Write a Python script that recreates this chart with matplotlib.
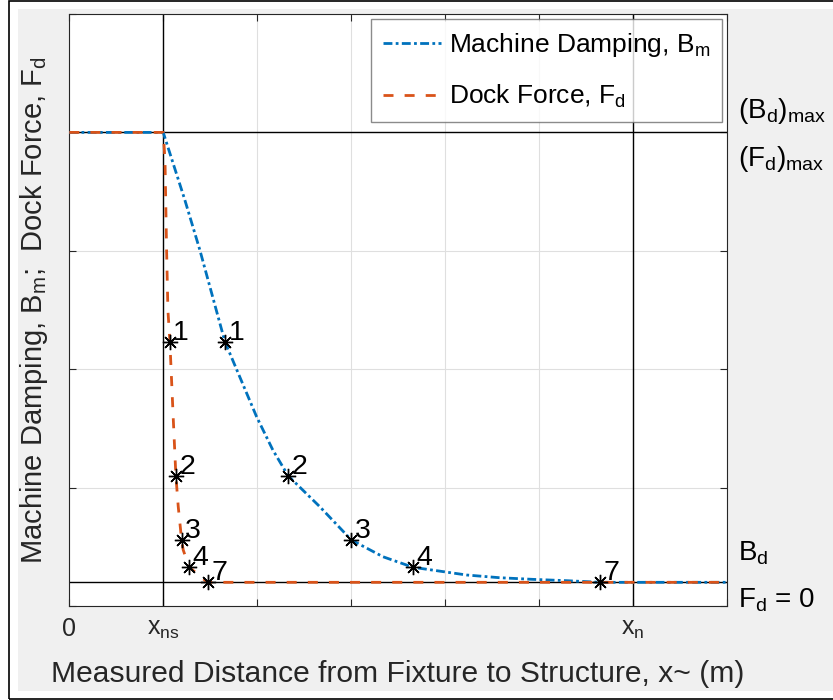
import matplotlib
matplotlib.use("Agg")
import matplotlib.pyplot as plt
from matplotlib.patches import Rectangle

plt.rcParams['font.family'] = ['Liberation Sans', 'DejaVu Sans']
plt.rcParams['mathtext.fontset'] = 'custom'
plt.rcParams['mathtext.rm'] = 'Liberation Sans'
plt.rcParams['mathtext.it'] = 'Liberation Sans:italic'

# ---- data (x in tick units, y in grid units) ----
bm_x = [0.0, 1.0, 1.23, 1.39, 1.657, 1.994, 2.167, 2.33, 2.667, 3.004, 3.34, 3.66,
        4.228, 4.58, 4.936, 5.29, 5.656, 7.0]
bm_y = [4.0, 4.0, 3.43, 3.007, 2.232, 1.599, 1.318, 1.10, 0.839, 0.557, 0.416, 0.327,
        0.262, 0.239, 0.225, 0.214, 0.20, 0.20]
fd_x = [0.0, 1.0, 1.019, 1.036, 1.05, 1.071, 1.106, 1.135, 1.16, 1.196, 1.213, 1.277, 1.472, 7.0]
fd_y = [4.0, 4.0, 3.767, 3.007, 2.5, 2.232, 1.599, 1.10, 0.839, 0.557, 0.473, 0.327, 0.20, 0.20]
bm_mark_x = [1.657, 2.33, 3.004, 3.66, 5.656]
fd_mark_x = [1.071, 1.135, 1.196, 1.277, 1.472]
mark_y = [2.232, 1.10, 0.557, 0.327, 0.20]
mark_labels = ['1', '2', '3', '4', '7']
x_ticks = [0, 1, 2, 3, 4, 5, 6, 7]
x_ticklabels = ['0', r'$\mathregular{x_{ns}}$', '', '', '', '', r'$\mathregular{x_n}$', '']
y_ticks = [0, 1, 2, 3, 4, 5]
x_ns, x_n = 1.0, 6.0
y_max, y_zero = 4.0, 0.20
right_labels = [r'$\mathregular{(B_d)_{max}}$', r'$\mathregular{(F_d)_{max}}$',
                r'$\mathregular{B_d}$', r'$\mathregular{F_d}$ = 0']
right_label_y = [4.12, 3.72, 0.383, -0.014]

W, H = 833, 700
fig = plt.figure(figsize=(W / 100, H / 100), dpi=100, facecolor='white')
fig.patches.append(Rectangle((18 / W, 9 / H), (W - 18) / W, (691 - 9) / H,
                             transform=fig.transFigure, facecolor='#f0f0f0',
                             edgecolor='none', zorder=-10))
fig.patches.append(Rectangle((9 / W, 1 / H), (W + 5 - 9) / W, (699 - 1) / H,
                             transform=fig.transFigure, facecolor='none',
                             edgecolor='black', lw=1.2, zorder=-9))

ax = fig.add_axes([69.3 / W, (H - 606) / H, (726.7 - 69.3) / W, (606 - 14) / H])
ax.set_facecolor('white')
ax.set_xlim(0, 7)
ax.set_ylim(0, 5)

ax.set_xticks(x_ticks)
ax.set_xticklabels(x_ticklabels)
ax.set_yticks(y_ticks)
ax.set_yticklabels([])
ax.tick_params(direction='in', length=5, width=0.8, colors='#262626',
               top=True, right=True, labelsize=18, pad=8)
for s in ax.spines.values():
    s.set_color('#262626')
    s.set_linewidth(0.8)
ax.grid(True, color='#dfdfdf', linewidth=0.8)
ax.set_axisbelow(True)

# reference lines
ax.axvline(x_ns, color='black', lw=1.0, zorder=1)
ax.axvline(x_n, color='black', lw=1.0, zorder=1)
ax.axhline(y_max, color='black', lw=1.0, zorder=1)
ax.axhline(y_zero, color='black', lw=1.0, zorder=1)

# curves
l1, = ax.plot(bm_x, bm_y, color='#0072BD', lw=2.0, linestyle=(0, (3.2, 1.2, 1.0, 1.2)),
              zorder=3, label=r'Machine Damping, $\mathregular{B_m}$')
l2, = ax.plot(fd_x, fd_y, color='#D95319', lw=2.0, linestyle=(0, (3.6, 4.0)),
              zorder=4, label=r'Dock Force, $\mathregular{F_d}$')

for xs in (bm_mark_x, fd_mark_x):
    ax.plot(xs, mark_y, linestyle='none', marker=(8, 2, 0), markersize=11,
            markeredgecolor='black', markeredgewidth=1.0, zorder=5)
    for xv, yv, lab in zip(xs, mark_y, mark_labels):
        ax.annotate(lab, (xv, yv), xytext=(2.5, 1.5), textcoords='offset points',
                    ha='left', va='baseline', fontsize=20.5, color='black', zorder=6)

# right-side labels
for lab, yv in zip(right_labels, right_label_y):
    ax.text(1.017, yv, lab, transform=ax.get_yaxis_transform(), ha='left',
            va='baseline', fontsize=20, color='black', clip_on=False)

leg = ax.legend(handles=[l1, l2], loc='upper right', bbox_to_anchor=(0.9924, 0.991),
                borderaxespad=0, fontsize=19, frameon=True, fancybox=False,
                handlelength=2.2, handletextpad=0.3, labelspacing=0.9,
                borderpad=0.45)
leg.get_frame().set_edgecolor('#6e6e6e')
leg.get_frame().set_linewidth(1.0)
for t in leg.get_texts():
    t.set_color('black')

ax.set_xlabel('Measured Distance from Fixture to Structure, x~ (m)', fontsize=21.6,
              color='#262626')
ax.xaxis.set_label_coords(0.5, (606 - 681.7) / 592)
ax.xaxis.label.set_verticalalignment('baseline')

ax.set_ylabel(r'Machine Damping, $\mathregular{B_m}$;  Dock Force, $\mathregular{F_d}$',
              fontsize=21, color='#262626')
ax.yaxis.set_label_coords((41.7 - 69.3) / 657.4, 0.5)
ax.yaxis.label.set_verticalalignment('baseline')

fig.savefig('out.png', dpi=100, facecolor=fig.get_facecolor())
